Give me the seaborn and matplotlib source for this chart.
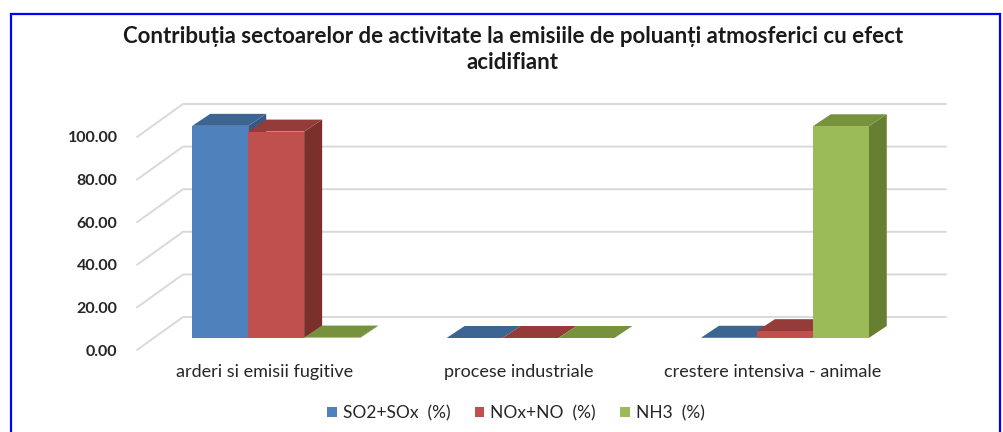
import matplotlib
matplotlib.use("Agg")
import matplotlib.pyplot as plt
import seaborn as sns
import pandas as pd
import numpy as np
from matplotlib.patches import Polygon, Rectangle, Patch
from matplotlib.lines import Line2D
from matplotlib.transforms import ScaledTranslation, IdentityTransform
from matplotlib.colors import to_rgb

# data
sectors = ["arderi si emisii fugitive", "procese industriale", "crestere intensiva - animale"]
pollutants = ["SO2+SOx  (%)", "NOx+NO  (%)", "NH3  (%)"]
so2 = [99.6, 0.0, 0.1]
nox = [96.9, 0.0, 3.2]
nh3 = [0.2, 0.0, 99.4]
yticks = [0, 20, 40, 60, 80, 100]

front_cols = ["#4F81BD", "#C0504D", "#9BBB59"]
top_cols = ["#3D6592", "#953B39", "#76923C"]
side_cols = ["#365A84", "#7B2F2D", "#667F33"]

df = pd.DataFrame({
    "sector": sectors * 3,
    "pollutant": [p for p in pollutants for _ in sectors],
    "value": so2 + nox + nh3,
})

sns.set_theme(style="white")
plt.rcParams['font.family'] = ['Lato', 'DejaVu Sans']

W, H = 1004, 432
fig = plt.figure(figsize=(W / 100, H / 100), dpi=100)
ax = fig.add_axes([137 / W, 82 / H, 763 / W, 213 / H])

sns.barplot(data=df, x="sector", y="value", hue="pollutant", order=sectors,
            hue_order=pollutants, palette=front_cols, saturation=1, width=0.66,
            legend=False, ax=ax)
ax.set_xlim(-0.5, 2.5)
ax.set_ylim(0, 100)
sns.despine(ax=ax, left=True, bottom=True)
ax.grid(False)

# fake 3d: back wall offset, bar offset and bar depth (pixels)
wall_dx, wall_dy = 46, 33
shift_x, shift_y = 12, 12
depth_x, depth_y = 18, 12
ident = IdentityTransform()

# back wall + side wall gridlines
for yv in yticks:
    fx, fy = ax.transData.transform((-0.5, yv))
    rx, ry = ax.transData.transform((2.5, yv))
    ax.add_line(Line2D([fx, fx + wall_dx, rx + wall_dx], [fy, fy + wall_dy, ry + wall_dy],
                       transform=ident, color="#D9D9D9", lw=1.4, clip_on=False, zorder=1))

# bars: front from seaborn, top and side faces added
off = ScaledTranslation(shift_x / 100, shift_y / 100, fig.dpi_scale_trans)
for p in list(ax.patches):
    fc = p.get_facecolor()[:3]
    j = int(np.argmin([np.abs(np.array(to_rgb(c)) - fc).sum() for c in front_cols]))
    x0 = p.get_x()
    x1 = x0 + p.get_width()
    h = p.get_height()
    X0, Yb = ax.transData.transform((x0, 0))
    X1, Yt = ax.transData.transform((x1, h))
    X0 += shift_x; X1 += shift_x; Yb += shift_y; Yt += shift_y
    p.set_transform(ax.transData + off)
    p.set_edgecolor("none")
    p.set_clip_on(False)
    p.set_zorder(3 + j * 0.1 + 0.05)
    topf = Polygon([(X0, Yt), (X1, Yt), (X1 + depth_x, Yt + depth_y), (X0 + depth_x, Yt + depth_y)],
                   closed=True, transform=ident, facecolor=top_cols[j], edgecolor="none",
                   clip_on=False, zorder=3 + j * 0.1)
    sidef = Polygon([(X1, Yb), (X1 + depth_x, Yb + depth_y), (X1 + depth_x, Yt + depth_y), (X1, Yt)],
                    closed=True, transform=ident, facecolor=side_cols[j], edgecolor="none",
                    clip_on=False, zorder=3 + j * 0.1)
    ax.add_patch(sidef)
    ax.add_patch(topf)

ax.set_yticks(yticks)
ax.set_yticklabels([f"{v:.2f}" for v in yticks], fontsize=11.5, fontweight="bold", color="#262626")
ax.set_xticks(range(len(sectors)))
ax.set_xticklabels(sectors, fontsize=13, color="#262626")
ax.tick_params(axis="y", length=0, pad=14)
ax.tick_params(axis="x", length=0, pad=10)
ax.set_xlabel("")
ax.set_ylabel("")

fig.text(513 / W, 1 - 49.5 / H,
         "Contribuția sectoarelor de activitate la emisiile de poluanți atmosferici cu efect\nacidifiant",
         ha="center", va="center", fontsize=16, fontweight="bold", color="#1a1a1a", linespacing=1.25)

handles = [Patch(facecolor=c, edgecolor="none") for c in front_cols]
fig.legend(handles, pollutants, loc="center", bbox_to_anchor=(516 / W, 1 - 413 / H), ncol=3,
           frameon=False, fontsize=12.5, handlelength=0.55, handleheight=0.55,
           handletextpad=0.35, columnspacing=1.4)

# blue frame around the chart
fig.add_artist(Rectangle((11 / W, -0.1), (1000 - 11) / W, 0.1 + 1 - 14 / H, transform=fig.transFigure,
                         fill=False, edgecolor="#0000FF", lw=1.6, clip_on=False))

fig.savefig("out.png", dpi=100)
